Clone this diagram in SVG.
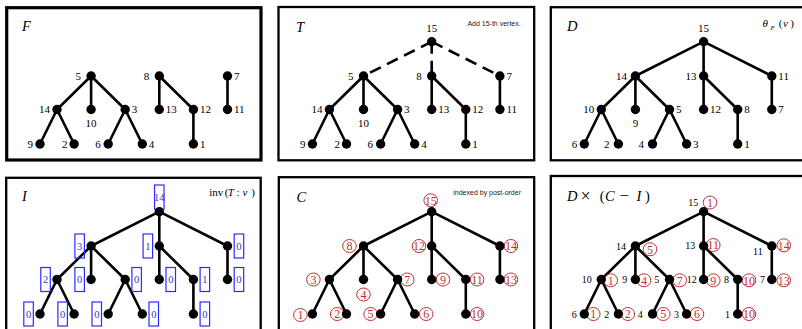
<svg xmlns="http://www.w3.org/2000/svg" xmlns:xlink="http://www.w3.org/1999/xlink" width="802" height="329" viewBox="0 0 802 329">
<style>
.frame{fill:none;stroke:#000;stroke-width:2.3}
.thick{stroke-width:3.2}
.edge{fill:none;stroke:#000;stroke-width:2.6}
.dash{stroke-dasharray:12 7}
.dot{fill:#000}
text{font-family:"Liberation Serif","Times New Roman",serif;font-size:11px;fill:#000}
.L{text-anchor:end}
.R{text-anchor:start}
.M{text-anchor:middle}
.s{font-size:10px}
.ttl{font-style:italic;font-size:14.5px}
.up{font-style:normal}
.note{font-family:"Liberation Sans",Arial,sans-serif;font-size:7px;text-anchor:end;fill:#222}
.bbox{fill:none;stroke:#2b2bff;stroke-width:1.2}
.btxt{fill:#3535d0;font-size:10.5px;text-anchor:middle}
.circ{fill:none;stroke:#c03030;stroke-width:1}
.ctxt{fill:#c03030;font-size:12px;text-anchor:middle}
.it{font-style:italic}
</style>
<defs>
<path id="forest" class="edge" d="M91.1 76L57 109.5M91.1 76V109.5M91.1 76L125.2 109.5M57 109.5L40 144M57 109.5L74.1 144M125.2 109.5L108.2 144M125.2 109.5L142.3 144M159.3 76V109.5M159.3 76L193.4 109.5M193.4 109.5V144M227.5 76V109.5"/>
<path id="root" class="edge" d="M159.3 41.7L91.1 76M159.3 41.7V76M159.3 41.7L227.5 76"/>
</defs>

<!-- Frames -->
<g id="frames">
<rect class="frame thick" x="6.7" y="7.7" width="254.3" height="152.3"/>
<rect class="frame" x="278.5" y="7" width="255.7" height="153.3"/>
<rect class="frame" x="550.8" y="7.2" width="270" height="153.1"/>
<rect class="frame" x="6.2" y="177.8" width="254.5" height="170"/>
<rect class="frame" x="278.8" y="177.2" width="255.4" height="170"/>
<rect class="frame" x="550.8" y="176" width="270" height="170"/>
</g>

<!-- Titles -->
<g id="titles">
<text class="ttl" x="22" y="30.7">F</text>
<text class="ttl" x="296" y="31.5">T</text>
<text class="note" x="520.7" y="26">Add 15-th vertex.</text>
<text class="ttl" x="567" y="30.7">D</text>
<text x="762.5" y="27" font-size="12"><tspan class="it">θ</tspan><tspan x="770.5" y="29.5" font-size="7" class="it">F</tspan><tspan x="778.8" y="27" font-size="11">(</tspan><tspan x="783" class="it" font-size="11">v</tspan><tspan x="790.3" font-size="11">)</tspan></text>
<text class="ttl" x="22" y="200.7">I</text>
<text x="209.3" y="195.5">inv<tspan x="224.8">(</tspan><tspan x="227.7" class="it">T</tspan><tspan x="236.6">:</tspan><tspan x="242.5" class="it">v</tspan><tspan x="251.3">)</tspan></text>
<text class="ttl" x="296.5" y="201.5">C</text>
<text class="note" x="521" y="195" font-size="6.8">indexed by post-order</text>
<text class="ttl" x="567" y="200.7">D<tspan x="580.5" y="201.5" class="up" font-size="18">×</tspan><tspan x="599.8" y="200.7" class="up">(</tspan><tspan x="605">C</tspan><tspan x="619.5" class="up" font-size="17">−</tspan><tspan x="636.5">I</tspan><tspan x="645" class="up">)</tspan></text>
</g>

<!-- Connectors -->
<g id="connectors">
<g id="F-edges"><use xlink:href="#forest"/></g>
<g id="T-edges" transform="translate(272.4,0)"><use xlink:href="#forest"/>
<line class="edge dash" x1="159.3" y1="41.7" x2="91.1" y2="76"/>
<line class="edge dash" x1="159.3" y1="41.7" x2="159.3" y2="76"/>
<line class="edge dash" x1="159.3" y1="41.7" x2="227.5" y2="76"/>
</g>
<g id="D-edges" transform="translate(544.3,0)"><use xlink:href="#forest"/><use xlink:href="#root"/></g>
<g id="I-edges" transform="translate(0,170)"><use xlink:href="#forest"/><use xlink:href="#root"/></g>
<g id="C-edges" transform="translate(272.4,170)"><use xlink:href="#forest"/><use xlink:href="#root"/></g>
<g id="DC-edges" transform="translate(544.3,170)"><use xlink:href="#forest"/><use xlink:href="#root"/></g>
</g>

<!-- Panel F -->
<g id="panel-F">
<g id="F-5"><circle class="dot" cx="91.1" cy="76" r="4.7"/><text class="L" x="81.1" y="79.8">5</text></g>
<g id="F-8"><circle class="dot" cx="159.3" cy="76" r="4.7"/><text class="L" x="149.3" y="79.8">8</text></g>
<g id="F-7"><circle class="dot" cx="227.5" cy="76" r="4.7"/><text class="R" x="234" y="79.8">7</text></g>
<g id="F-14"><circle class="dot" cx="57" cy="109.5" r="4.7"/><text class="L" x="50" y="113.3">14</text></g>
<g id="F-10"><circle class="dot" cx="91.1" cy="109.5" r="4.7"/><text class="M" x="91.1" y="126.5">10</text></g>
<g id="F-3"><circle class="dot" cx="125.2" cy="109.5" r="4.7"/><text class="R" x="131.7" y="113.3">3</text></g>
<g id="F-13"><circle class="dot" cx="159.3" cy="109.5" r="4.7"/><text class="R" x="165.8" y="113.3">13</text></g>
<g id="F-12"><circle class="dot" cx="193.4" cy="109.5" r="4.7"/><text class="R" x="199.9" y="113.3">12</text></g>
<g id="F-11"><circle class="dot" cx="227.5" cy="109.5" r="4.7"/><text class="R" x="234" y="113.3">11</text></g>
<g id="F-9"><circle class="dot" cx="40" cy="144" r="4.7"/><text class="L" x="33" y="147.8">9</text></g>
<g id="F-2"><circle class="dot" cx="74.1" cy="144" r="4.7"/><text class="L" x="67.6" y="147.8">2</text></g>
<g id="F-6"><circle class="dot" cx="108.2" cy="144" r="4.7"/><text class="L" x="100.7" y="147.8">6</text></g>
<g id="F-4"><circle class="dot" cx="142.3" cy="144" r="4.7"/><text class="R" x="148.8" y="147.8">4</text></g>
<g id="F-1"><circle class="dot" cx="193.4" cy="144" r="4.7"/><text class="R" x="199.9" y="147.8">1</text></g>
</g>

<!-- Panel T -->
<g id="panel-T" transform="translate(272.4,0)">
<g id="T-15"><circle class="dot" cx="159.3" cy="41.7" r="4.7"/><text class="M" x="159.3" y="32.3">15</text></g>
<g id="T-5"><circle class="dot" cx="91.1" cy="76" r="4.7"/><text class="L" x="81.1" y="79.8">5</text></g>
<g id="T-8"><circle class="dot" cx="159.3" cy="76" r="4.7"/><text class="L" x="149.3" y="79.8">8</text></g>
<g id="T-7"><circle class="dot" cx="227.5" cy="76" r="4.7"/><text class="R" x="234" y="79.8">7</text></g>
<g id="T-14"><circle class="dot" cx="57" cy="109.5" r="4.7"/><text class="L" x="50" y="113.3">14</text></g>
<g id="T-10"><circle class="dot" cx="91.1" cy="109.5" r="4.7"/><text class="M" x="91.1" y="126.5">10</text></g>
<g id="T-3"><circle class="dot" cx="125.2" cy="109.5" r="4.7"/><text class="R" x="131.7" y="113.3">3</text></g>
<g id="T-13"><circle class="dot" cx="159.3" cy="109.5" r="4.7"/><text class="R" x="165.8" y="113.3">13</text></g>
<g id="T-12"><circle class="dot" cx="193.4" cy="109.5" r="4.7"/><text class="R" x="199.9" y="113.3">12</text></g>
<g id="T-11"><circle class="dot" cx="227.5" cy="109.5" r="4.7"/><text class="R" x="234" y="113.3">11</text></g>
<g id="T-9"><circle class="dot" cx="40" cy="144" r="4.7"/><text class="L" x="33" y="147.8">9</text></g>
<g id="T-2"><circle class="dot" cx="74.1" cy="144" r="4.7"/><text class="L" x="67.6" y="147.8">2</text></g>
<g id="T-6"><circle class="dot" cx="108.2" cy="144" r="4.7"/><text class="L" x="100.7" y="147.8">6</text></g>
<g id="T-4"><circle class="dot" cx="142.3" cy="144" r="4.7"/><text class="R" x="148.8" y="147.8">4</text></g>
<g id="T-1"><circle class="dot" cx="193.4" cy="144" r="4.7"/><text class="R" x="199.9" y="147.8">1</text></g>
</g>

<!-- Panel D -->
<g id="panel-D" transform="translate(544.3,0)">
<g id="D-15"><circle class="dot" cx="159.3" cy="41.7" r="4.7"/><text class="M" x="159.3" y="32.3">15</text></g>
<g id="D-14"><circle class="dot" cx="91.1" cy="76" r="4.7"/><text class="L" x="82.6" y="79.8">14</text></g>
<g id="D-13"><circle class="dot" cx="159.3" cy="76" r="4.7"/><text class="L" x="152.3" y="79.8">13</text></g>
<g id="D-11"><circle class="dot" cx="227.5" cy="76" r="4.7"/><text class="R" x="234" y="79.8">11</text></g>
<g id="D-10"><circle class="dot" cx="57" cy="109.5" r="4.7"/><text class="L" x="50" y="113.3">10</text></g>
<g id="D-9"><circle class="dot" cx="91.1" cy="109.5" r="4.7"/><text class="M" x="91.1" y="126.5">9</text></g>
<g id="D-5"><circle class="dot" cx="125.2" cy="109.5" r="4.7"/><text class="R" x="131.7" y="113.3">5</text></g>
<g id="D-12"><circle class="dot" cx="159.3" cy="109.5" r="4.7"/><text class="R" x="165.8" y="113.3">12</text></g>
<g id="D-8"><circle class="dot" cx="193.4" cy="109.5" r="4.7"/><text class="R" x="199.9" y="113.3">8</text></g>
<g id="D-7"><circle class="dot" cx="227.5" cy="109.5" r="4.7"/><text class="R" x="234" y="113.3">7</text></g>
<g id="D-6"><circle class="dot" cx="40" cy="144" r="4.7"/><text class="L" x="33" y="147.8">6</text></g>
<g id="D-2"><circle class="dot" cx="74.1" cy="144" r="4.7"/><text class="L" x="65.1" y="147.8">2</text></g>
<g id="D-4"><circle class="dot" cx="108.2" cy="144" r="4.7"/><text class="L" x="99.7" y="147.8">4</text></g>
<g id="D-3"><circle class="dot" cx="142.3" cy="144" r="4.7"/><text class="R" x="148.8" y="147.8">3</text></g>
<g id="D-1"><circle class="dot" cx="193.4" cy="144" r="4.7"/><text class="R" x="199.9" y="147.8">1</text></g>
</g>

<!-- Panel I -->
<g id="panel-I" transform="translate(0,170)">
<g id="I-15"><rect class="bbox" x="154.55" y="15" width="9.5" height="24.3"/><text class="btxt" x="159.3" y="30.8">14</text><circle class="dot" cx="159.3" cy="41.7" r="4.7"/></g>
<g id="I-5"><rect class="bbox" x="74.9" y="64" width="9.5" height="24"/><text class="btxt" x="79.65" y="79.7">3</text><circle class="dot" cx="91.1" cy="76" r="4.7"/></g>
<g id="I-8"><rect class="bbox" x="143.1" y="64" width="9.5" height="24"/><text class="btxt" x="147.85" y="79.7">1</text><circle class="dot" cx="159.3" cy="76" r="4.7"/></g>
<g id="I-7"><rect class="bbox" x="234.2" y="64" width="9.5" height="24"/><text class="btxt" x="238.95" y="79.7">0</text><circle class="dot" cx="227.5" cy="76" r="4.7"/></g>
<g id="I-14"><rect class="bbox" x="40.8" y="97.5" width="9.5" height="24"/><text class="btxt" x="45.55" y="113.2">2</text><circle class="dot" cx="57" cy="109.5" r="4.7"/></g>
<g id="I-10"><rect class="bbox" x="74.9" y="97.5" width="9.5" height="24"/><text class="btxt" x="79.65" y="113.2">0</text><circle class="dot" cx="91.1" cy="109.5" r="4.7"/></g>
<g id="I-3"><rect class="bbox" x="131.9" y="97.5" width="9.5" height="24"/><text class="btxt" x="136.65" y="113.2">0</text><circle class="dot" cx="125.2" cy="109.5" r="4.7"/></g>
<g id="I-13"><rect class="bbox" x="166" y="97.5" width="9.5" height="24"/><text class="btxt" x="170.75" y="113.2">0</text><circle class="dot" cx="159.3" cy="109.5" r="4.7"/></g>
<g id="I-12"><rect class="bbox" x="200.1" y="97.5" width="9.5" height="24"/><text class="btxt" x="204.85" y="113.2">1</text><circle class="dot" cx="193.4" cy="109.5" r="4.7"/></g>
<g id="I-11"><rect class="bbox" x="234.2" y="97.5" width="9.5" height="24"/><text class="btxt" x="238.95" y="113.2">0</text><circle class="dot" cx="227.5" cy="109.5" r="4.7"/></g>
<g id="I-9"><rect class="bbox" x="23.8" y="132" width="9.5" height="24"/><text class="btxt" x="28.55" y="147.7">0</text><circle class="dot" cx="40" cy="144" r="4.7"/></g>
<g id="I-2"><rect class="bbox" x="57.9" y="132" width="9.5" height="24"/><text class="btxt" x="62.65" y="147.7">0</text><circle class="dot" cx="74.1" cy="144" r="4.7"/></g>
<g id="I-6"><rect class="bbox" x="92" y="132" width="9.5" height="24"/><text class="btxt" x="96.75" y="147.7">0</text><circle class="dot" cx="108.2" cy="144" r="4.7"/></g>
<g id="I-4"><rect class="bbox" x="149" y="132" width="9.5" height="24"/><text class="btxt" x="153.75" y="147.7">0</text><circle class="dot" cx="142.3" cy="144" r="4.7"/></g>
<g id="I-1"><rect class="bbox" x="200.1" y="132" width="9.5" height="24"/><text class="btxt" x="204.85" y="147.7">0</text><circle class="dot" cx="193.4" cy="144" r="4.7"/></g>
</g>

<!-- Panel C -->
<g id="panel-C" transform="translate(272.4,170)">
<g id="C-15"><ellipse class="circ" cx="158.3" cy="30.3" rx="6.8" ry="6.5"/><text class="ctxt" x="158.3" y="34.6">15</text><circle class="dot" cx="159.3" cy="41.7" r="4.7"/></g>
<g id="C-8"><ellipse class="circ" cx="77.1" cy="76" rx="6.8" ry="6.5"/><text class="ctxt" x="77.1" y="80.3">8</text><circle class="dot" cx="91.1" cy="76" r="4.7"/></g>
<g id="C-12"><ellipse class="circ" cx="146.6" cy="76" rx="6.8" ry="6.5"/><text class="ctxt" x="146.6" y="80.3">12</text><circle class="dot" cx="159.3" cy="76" r="4.7"/></g>
<g id="C-14"><ellipse class="circ" cx="238.5" cy="76" rx="6.8" ry="6.5"/><text class="ctxt" x="238.5" y="80.3">14</text><circle class="dot" cx="227.5" cy="76" r="4.7"/></g>
<g id="C-3"><ellipse class="circ" cx="41" cy="109.5" rx="6.8" ry="6.5"/><text class="ctxt" x="41" y="113.8">3</text><circle class="dot" cx="57" cy="109.5" r="4.7"/></g>
<g id="C-4"><ellipse class="circ" cx="91.1" cy="124.5" rx="6.8" ry="6.5"/><text class="ctxt" x="91.1" y="128.8">4</text><circle class="dot" cx="91.1" cy="109.5" r="4.7"/></g>
<g id="C-7"><ellipse class="circ" cx="134.9" cy="109.5" rx="6.8" ry="6.5"/><text class="ctxt" x="134.9" y="113.8">7</text><circle class="dot" cx="125.2" cy="109.5" r="4.7"/></g>
<g id="C-9"><ellipse class="circ" cx="170.6" cy="109.5" rx="6.8" ry="6.5"/><text class="ctxt" x="170.6" y="113.8">9</text><circle class="dot" cx="159.3" cy="109.5" r="4.7"/></g>
<g id="C-11"><ellipse class="circ" cx="204.7" cy="109.5" rx="6.8" ry="6.5"/><text class="ctxt" x="204.7" y="113.8">11</text><circle class="dot" cx="193.4" cy="109.5" r="4.7"/></g>
<g id="C-13"><ellipse class="circ" cx="238.5" cy="109.5" rx="6.8" ry="6.5"/><text class="ctxt" x="238.5" y="113.8">13</text><circle class="dot" cx="227.5" cy="109.5" r="4.7"/></g>
<g id="C-1"><ellipse class="circ" cx="28" cy="145" rx="6.8" ry="6.5"/><text class="ctxt" x="28" y="149.3">1</text><circle class="dot" cx="40" cy="144" r="4.7"/></g>
<g id="C-2"><ellipse class="circ" cx="64.8" cy="144" rx="6.8" ry="6.5"/><text class="ctxt" x="64.8" y="148.3">2</text><circle class="dot" cx="74.1" cy="144" r="4.7"/></g>
<g id="C-5"><ellipse class="circ" cx="98.2" cy="144" rx="6.8" ry="6.5"/><text class="ctxt" x="98.2" y="148.3">5</text><circle class="dot" cx="108.2" cy="144" r="4.7"/></g>
<g id="C-6"><ellipse class="circ" cx="153.8" cy="144" rx="6.8" ry="6.5"/><text class="ctxt" x="153.8" y="148.3">6</text><circle class="dot" cx="142.3" cy="144" r="4.7"/></g>
<g id="C-10"><ellipse class="circ" cx="204.7" cy="144" rx="6.8" ry="6.5"/><text class="ctxt" x="204.7" y="148.3">10</text><circle class="dot" cx="193.4" cy="144" r="4.7"/></g>
</g>

<!-- Panel D x (C - I) -->
<g id="panel-DCI" transform="translate(544.3,170)">
<g id="DC-15"><text class="L s" x="154" y="36">15</text><ellipse class="circ" cx="165.7" cy="32.5" rx="6.8" ry="6.5"/><text class="ctxt" x="165.7" y="36.8">1</text><circle class="dot" cx="159.3" cy="41.7" r="4.7"/></g>
<g id="DC-14"><text class="L s" x="81.7" y="79.5">14</text><ellipse class="circ" cx="105.7" cy="79.3" rx="6.8" ry="6.5"/><text class="ctxt" x="105.7" y="83.6">5</text><circle class="dot" cx="91.1" cy="76" r="4.7"/></g>
<g id="DC-13"><text class="L s" x="151" y="79.3">13</text><ellipse class="circ" cx="169" cy="75" rx="6.8" ry="6.5"/><text class="ctxt" x="169" y="79.3">11</text><circle class="dot" cx="159.3" cy="76" r="4.7"/></g>
<g id="DC-11"><text class="L s" x="218.4" y="85">11</text><ellipse class="circ" cx="239.5" cy="75.3" rx="6.8" ry="6.5"/><text class="ctxt" x="239.5" y="79.6">14</text><circle class="dot" cx="227.5" cy="76" r="4.7"/></g>
<g id="DC-10"><text class="L s" x="47.4" y="113">10</text><ellipse class="circ" cx="66.4" cy="110.3" rx="6.8" ry="6.5"/><text class="ctxt" x="66.4" y="114.6">1</text><circle class="dot" cx="57" cy="109.5" r="4.7"/></g>
<g id="DC-9"><text class="L s" x="83" y="113">9</text><ellipse class="circ" cx="99.7" cy="110.3" rx="6.8" ry="6.5"/><text class="ctxt" x="99.7" y="114.6">4</text><circle class="dot" cx="91.1" cy="109.5" r="4.7"/></g>
<g id="DC-5"><text class="L s" x="115" y="113">5</text><ellipse class="circ" cx="135.4" cy="110.3" rx="6.8" ry="6.5"/><text class="ctxt" x="135.4" y="114.6">7</text><circle class="dot" cx="125.2" cy="109.5" r="4.7"/></g>
<g id="DC-12"><text class="L s" x="152.4" y="113">12</text><ellipse class="circ" cx="169" cy="110.3" rx="6.8" ry="6.5"/><text class="ctxt" x="169" y="114.6">9</text><circle class="dot" cx="159.3" cy="109.5" r="4.7"/></g>
<g id="DC-8"><text class="L s" x="184.7" y="113">8</text><ellipse class="circ" cx="204.7" cy="110.3" rx="6.8" ry="6.5"/><text class="ctxt" x="204.7" y="114.6">10</text><circle class="dot" cx="193.4" cy="109.5" r="4.7"/></g>
<g id="DC-7"><text class="L s" x="220.7" y="113">7</text><ellipse class="circ" cx="239.5" cy="110.3" rx="6.8" ry="6.5"/><text class="ctxt" x="239.5" y="114.6">13</text><circle class="dot" cx="227.5" cy="109.5" r="4.7"/></g>
<g id="DC-6"><text class="L s" x="32.4" y="147.5">6</text><ellipse class="circ" cx="49" cy="144" rx="6.8" ry="6.5"/><text class="ctxt" x="49" y="148.3">1</text><circle class="dot" cx="40" cy="144" r="4.7"/></g>
<g id="DC-2"><text class="L s" x="65" y="147.5">2</text><ellipse class="circ" cx="83.5" cy="144" rx="6.8" ry="6.5"/><text class="ctxt" x="83.5" y="148.3">2</text><circle class="dot" cx="74.1" cy="144" r="4.7"/></g>
<g id="DC-4"><text class="L s" x="98.4" y="147.5">4</text><ellipse class="circ" cx="119" cy="144" rx="6.8" ry="6.5"/><text class="ctxt" x="119" y="148.3">5</text><circle class="dot" cx="108.2" cy="144" r="4.7"/></g>
<g id="DC-3"><text class="L s" x="134.7" y="147.5">3</text><ellipse class="circ" cx="152.7" cy="144" rx="6.8" ry="6.5"/><text class="ctxt" x="152.7" y="148.3">6</text><circle class="dot" cx="142.3" cy="144" r="4.7"/></g>
<g id="DC-1"><text class="L s" x="185.7" y="147.5">1</text><ellipse class="circ" cx="204.7" cy="144" rx="6.8" ry="6.5"/><text class="ctxt" x="204.7" y="148.3">10</text><circle class="dot" cx="193.4" cy="144" r="4.7"/></g>
</g>
</svg>
